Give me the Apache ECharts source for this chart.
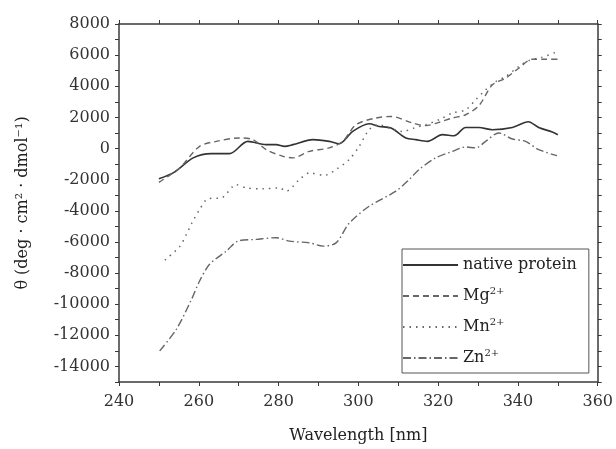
<!DOCTYPE html>
<html>
<head>
<meta charset="utf-8">
<script src="https://cdn.jsdelivr.net/npm/echarts@6/dist/echarts.min.js"></script>
<style>
  html, body { margin: 0; padding: 0; background: #fff; }
  #chart { width: 616px; height: 449px; }
</style>
</head>
<body>
<div id="chart"></div>
<script>
var chart = echarts.init(document.getElementById('chart'));

// [wavelength nm, theta]
var nativeProtein = [
    [250, -1950], [254, -1500], [258.6, -600], [263.2, -330], [267.7, -330], [272.3, 460],
    [276.9, 250], [279.4, 250], [281.5, 140], [283.6, 250], [288.6, 570], [292.7, 460],
    [295.2, 310], [298.6, 1100], [302.7, 1590], [305.2, 1420], [308.2, 1320], [311.9, 680],
    [314.4, 570], [317.3, 460], [321.1, 890], [324, 820], [326.9, 1350], [330.2, 1350],
    [333.6, 1210], [338.6, 1350], [342.6, 1720], [345.2, 1350], [348.6, 1060], [350, 890]
];
var mg = [
    [250, -2170], [255.2, -1250], [260.2, 140], [264.4, 460], [270.2, 680], [273.6, 570],
    [276.9, -70], [281.1, -500], [283.6, -600], [287.7, -180], [292.7, 40], [296.1, 460],
    [299.4, 1530], [304.4, 1960], [308.2, 2060], [313.6, 1640], [316.9, 1470], [320.2, 1680],
    [323.6, 1960], [326.9, 2170], [330.2, 2750], [333.6, 4090], [336.9, 4520], [340.2, 5160],
    [343.6, 5740], [346.9, 5740], [350, 5740]
];
var mn = [
    [251.5, -7170], [255.2, -6300], [256.9, -5520], [258.3, -4770], [260.2, -3920],
    [262.3, -3230], [265.7, -3170], [269.4, -2320], [271.9, -2530], [276.1, -2590],
    [280.2, -2530], [281.9, -2740], [285.2, -2000], [287.7, -1570], [291.5, -1720],
    [294.4, -1350], [297.7, -710], [300.2, 140], [302.7, 1210], [305.2, 1530], [307.7, 1320],
    [311.1, 1100], [314, 1320], [316.9, 1530], [320.2, 1850], [323.6, 2280], [326.9, 2490],
    [329.4, 3130], [331.9, 3770], [334.4, 4300], [336.9, 4620], [340.2, 5270], [342.7, 5650],
    [346.1, 5870], [350, 6230]
];
var zn = [
    [250.2, -13000], [254.4, -11600], [258.2, -9680], [260.2, -8510], [262.7, -7440],
    [266.9, -6590], [269.8, -5950], [274.4, -5840], [279.4, -5730], [282.7, -5950],
    [287.7, -6060], [291.1, -6270], [294.4, -6060], [297.7, -4800], [302.7, -3710],
    [309.4, -2740], [312.7, -2000], [315.2, -1350], [319.4, -600], [323.6, -180],
    [326.9, 100], [329.4, 40], [331.9, 460], [335.2, 1000], [338.6, 610], [341.9, 460],
    [345.2, -70], [349.8, -460]
];

var xMin = 240, xMax = 360;
var yMin = -15000, yMax = 8000;

var font = 'DejaVu Serif';
var axisColor = '#3a3a3a';

function mirrorAxis(extra) {
    return Object.assign({
        type: 'value',
        axisLine: { show: true, onZero: false, lineStyle: { color: axisColor, width: 1.5 } },
        axisTick: { show: true, inside: false, length: 4, lineStyle: { color: axisColor } },
        axisLabel: { show: false },
        splitLine: { show: false }
    }, extra);
}

var sup = { b: { fontFamily: font, fontSize: 16, color: '#222', lineHeight: 20 },
            s: { fontFamily: font, fontSize: 10, color: '#222', verticalAlign: 'top', lineHeight: 10 } };

var option = {
    backgroundColor: '#fff',
    animation: false,
    grid: { left: 119, top: 24, right: 17, bottom: 66 },
    legend: {
        orient: 'vertical',
        left: 402,
        top: 249,
        padding: [8, 12, 7, 0],
        itemWidth: 55,
        itemHeight: 14,
        itemGap: 13,
        borderColor: '#555',
        borderWidth: 1,
        itemStyle: { color: 'transparent', borderWidth: 0 },
        data: ['native protein', 'Mg2+', 'Mn2+', 'Zn2+'],
        formatter: function (name) {
            if (name === 'native protein') return '{b|native protein}';
            return '{b|' + name.slice(0, 2) + '}{s|2+}';
        },
        textStyle: { fontFamily: font, fontSize: 16, color: '#222', rich: sup }
    },
    xAxis: [
        {
            type: 'value', min: xMin, max: xMax, interval: 10,
            name: 'Wavelength [nm]', nameLocation: 'middle', nameGap: 46,
            nameTextStyle: { fontFamily: font, fontSize: 16, color: '#222' },
            axisLine: { show: true, onZero: false, lineStyle: { color: axisColor, width: 1.5 } },
            axisTick: { show: true, inside: false, length: 4, lineStyle: { color: axisColor } },
            axisLabel: {
                margin: 12, fontFamily: font, fontSize: 16, color: '#333',
                formatter: function (v) { return v % 20 === 0 ? String(v) : ''; }
            },
            splitLine: { show: false }
        },
        mirrorAxis({ position: 'top', min: xMin, max: xMax, interval: 10 })
    ],
    yAxis: [
        {
            type: 'value', min: yMin, max: yMax, interval: 1000,
            name: 'θ (deg · cm² · dmol⁻¹)', nameLocation: 'middle', nameGap: 88,
            nameTextStyle: { fontFamily: font, fontSize: 16, color: '#222' },
            axisLine: { show: true, onZero: false, lineStyle: { color: axisColor, width: 1.5 } },
            axisTick: { show: true, inside: false, length: 4, lineStyle: { color: axisColor } },
            axisLabel: {
                margin: 9, fontFamily: font, fontSize: 16, color: '#333',
                formatter: function (v) { return v % 2000 === 0 ? String(v) : ''; }
            },
            splitLine: { show: false }
        },
        mirrorAxis({ position: 'right', min: yMin, max: yMax, interval: 1000 })
    ],
    series: [
        {
            name: 'native protein', type: 'line', data: nativeProtein, smooth: 0.3,
            symbol: 'none', lineStyle: { color: '#333', width: 1.6, type: 'solid' },
            itemStyle: { color: '#333' }
        },
        {
            name: 'Mg2+', type: 'line', data: mg, smooth: 0.3,
            symbol: 'none', lineStyle: { color: '#666', width: 1.4, type: [6, 4] },
            itemStyle: { color: '#666' }
        },
        {
            name: 'Mn2+', type: 'line', data: mn, smooth: 0.3,
            symbol: 'none', lineStyle: { color: '#666', width: 1.5, type: [1.5, 5] },
            itemStyle: { color: '#666' }
        },
        {
            name: 'Zn2+', type: 'line', data: zn, smooth: 0.3,
            symbol: 'none', lineStyle: { color: '#666', width: 1.4, type: [8, 3, 1.5, 3] },
            itemStyle: { color: '#666' }
        }
    ]
};
chart.setOption(option);
</script>
</body>
</html>
